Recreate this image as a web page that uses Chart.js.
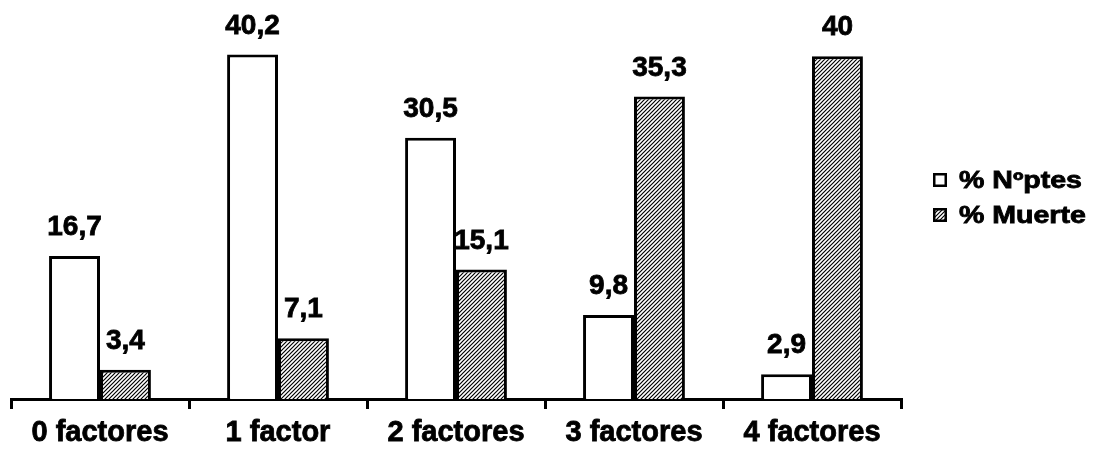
<!DOCTYPE html>
<html>
<head>
<meta charset="utf-8">
<script src="https://cdn.jsdelivr.net/npm/chart.js@4"></script>
<style>
  body { margin: 0; background: #fff; }
  canvas { display: block; }
</style>
</head>
<body>
<canvas id="chart" width="1097" height="456"></canvas>
<script>
const categories = ["0 factores", "1 factor", "2 factores", "3 factores", "4 factores"];
const seriesNames = ["% Nºptes", "% Muerte"];
const pctPacientes = [16.7, 40.2, 30.5, 9.8, 2.9];
const pctMuerte = [3.4, 7.1, 15.1, 35.3, 40];

const FONT = "'Liberation Sans', Arial, sans-serif";

function makeHatch () {
  const c = document.createElement('canvas');
  c.width = 4;
  c.height = 4;
  const g = c.getContext('2d');
  g.fillStyle = '#fff';
  g.fillRect(0, 0, 4, 4);
  g.strokeStyle = '#000';
  g.lineWidth = 1.2;
  g.beginPath();
  g.moveTo(-1, 5); g.lineTo(5, -1);
  g.moveTo(-1, 1); g.lineTo(1, -1);
  g.moveTo(3, 5); g.lineTo(5, 3);
  g.stroke();
  return g.createPattern(c, 'repeat');
}

const hatch = makeHatch();

function fmt (v) {
  return String(v).replace('.', ',');
}

// bold text with a thin outline to get the heavy look
function heavyText (ctx, text, x, y) {
  ctx.fillText(text, x, y);
  ctx.strokeText(text, x, y);
}

const valueLabels = {
  id: 'valueLabels',
  afterDatasetsDraw (chart) {
    const ctx = chart.ctx;
    ctx.save();
    ctx.font = 'bold 28px ' + FONT;
    ctx.fillStyle = '#000';
    ctx.strokeStyle = '#000';
    ctx.lineWidth = 0.8;
    ctx.textAlign = 'center';
    ctx.textBaseline = 'alphabetic';
    chart.data.datasets.forEach((ds, i) => {
      chart.getDatasetMeta(i).data.forEach((bar, j) => {
        heavyText(ctx, fmt(ds.data[j]), bar.x, bar.y - 21);
      });
    });
    ctx.restore();
  }
};

const sideLegend = {
  id: 'sideLegend',
  afterDraw (chart) {
    const ctx = chart.ctx;
    const rows = [{ y: 173, fill: '#fff' }, { y: 208, fill: hatch }];
    ctx.save();
    rows.forEach((r, i) => {
      ctx.fillStyle = r.fill;
      ctx.fillRect(933, r.y, 14, 14);
      ctx.strokeStyle = '#000';
      ctx.lineWidth = 2.5;
      ctx.strokeRect(934.25, r.y + 1.25, 11.5, 11.5);
      ctx.save();
      ctx.translate(959, r.y + 15);
      ctx.scale(1.24, 1);
      ctx.font = 'bold 23px ' + FONT;
      ctx.fillStyle = '#000';
      ctx.strokeStyle = '#000';
      ctx.lineWidth = 0.8;
      ctx.textBaseline = 'alphabetic';
      heavyText(ctx, seriesNames[i], 0, 0);
      ctx.restore();
    });
    ctx.restore();
  }
};

new Chart(document.getElementById('chart'), {
  type: 'bar',
  data: {
    labels: categories,
    datasets: [{
      label: seriesNames[0],
      data: pctPacientes,
      backgroundColor: '#fff',
      borderColor: '#000',
      borderWidth: 3
    }, {
      label: seriesNames[1],
      data: pctMuerte,
      backgroundColor: hatch,
      borderColor: '#000',
      borderWidth: 3
    }]
  },
  options: {
    responsive: false,
    animation: false,
    layout: {
      padding: { top: 22, left: 11, right: 196, bottom: 0 }
    },
    datasets: {
      bar: { categoryPercentage: 0.572, barPercentage: 1 }
    },
    plugins: {
      legend: { display: false },
      tooltip: { enabled: false }
    },
    scales: {
      y: {
        display: false,
        min: 0,
        max: 44
      },
      x: {
        border: { display: true, color: '#000', width: 3 },
        grid: {
          display: true,
          drawOnChartArea: false,
          drawTicks: true,
          tickLength: 10,
          color: '#000',
          lineWidth: 3
        },
        ticks: {
          color: '#000',
          padding: 9,
          textStrokeColor: '#000',
          textStrokeWidth: 0.8,
          font: { family: FONT, size: 29, weight: 'bold', lineHeight: 1 }
        }
      }
    }
  },
  plugins: [valueLabels, sideLegend]
});
</script>
</body>
</html>
